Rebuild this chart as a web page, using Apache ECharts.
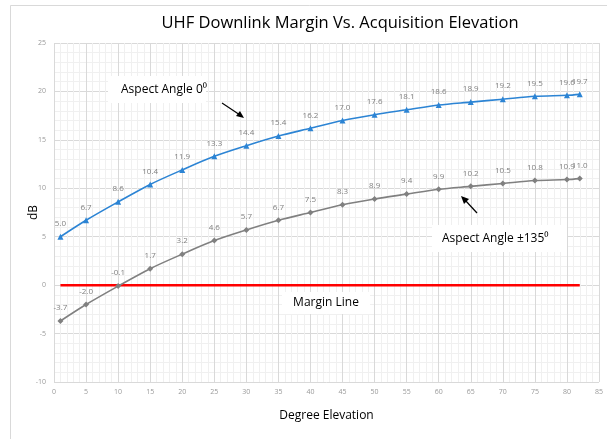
<!DOCTYPE html>
<html>
<head>
<meta charset="utf-8">
<script src="https://cdn.jsdelivr.net/npm/echarts@6/dist/echarts.min.js"></script>
<style>
  html, body { margin: 0; padding: 0; background: #fff; }
  #chart { width: 607px; height: 439px; }
</style>
</head>
<body>
<div id="chart"></div>
<script>
  // elevation (deg) and margin values
  var elevation = [1, 5, 10, 15, 20, 25, 30, 35, 40, 45, 50, 55, 60, 65, 70, 75, 80, 82];
  var angle0 = [5.0, 6.7, 8.6, 10.4, 11.9, 13.3, 14.4, 15.4, 16.2, 17.0, 17.6, 18.1, 18.6, 18.9, 19.2, 19.5, 19.6, 19.7];
  var angle135 = [-3.7, -2.0, -0.1, 1.7, 3.2, 4.6, 5.7, 6.7, 7.5, 8.3, 8.9, 9.4, 9.9, 10.2, 10.5, 10.8, 10.9, 11.0];
  var marginX = [1, 82];
  var marginY = [0, 0];

  function pairs(xs, ys) {
    var out = [];
    xs.forEach(function (x, i) { out.push([x, ys[i]]); });
    return out;
  }

  var font = 'Open Sans';
  var myChart = echarts.init(document.getElementById('chart'));

  var labelStyle = {
    show: true,
    position: 'top',
    distance: 6,
    fontSize: 8,
    fontFamily: font,
    color: '#808080',
    formatter: function (p) { return p.value[1].toFixed(1); }
  };

  myChart.setOption({
    backgroundColor: '#fff',
    animation: false,
    title: {
      text: 'UHF Downlink Margin Vs. Acquisition Elevation',
      left: 335,
      textAlign: 'center',
      top: 10,
      textStyle: { fontFamily: font, fontSize: 16.5, fontWeight: 'normal', color: '#000' }
    },
    grid: { left: 54, right: 8, top: 43, bottom: 57 },
    xAxis: {
      type: 'value',
      min: 0, max: 85, interval: 5,
      name: 'Degree Elevation',
      nameLocation: 'middle',
      nameGap: 28,
      nameMoveOverlap: false,
      nameTextStyle: { fontFamily: font, fontSize: 12, color: '#000' },
      axisLine: { show: false },
      axisTick: { show: false },
      axisLabel: { fontSize: 7, color: '#999', fontFamily: font, margin: 6 },
      splitLine: { lineStyle: { color: '#d9d9d9' } },
      minorTick: { show: false, splitNumber: 5 },
      minorSplitLine: { show: true, lineStyle: { color: '#f0f0f0' } }
    },
    yAxis: {
      type: 'value',
      min: -10, max: 25, interval: 5,
      name: 'dB',
      nameLocation: 'middle',
      nameGap: 14,
      nameMoveOverlap: false,
      nameTextStyle: { fontFamily: font, fontSize: 12, color: '#000' },
      axisLine: { show: false },
      axisTick: { show: false },
      axisLabel: { fontSize: 7, color: '#999', fontFamily: font, margin: 8 },
      splitLine: { lineStyle: { color: '#d9d9d9' } },
      minorTick: { show: false, splitNumber: 5 },
      minorSplitLine: { show: true, lineStyle: { color: '#f0f0f0' } }
    },
    series: [
      {
        name: 'Margin Line',
        type: 'line',
        data: pairs(marginX, marginY),
        symbol: 'none',
        lineStyle: { color: '#ff0000', width: 2.5 },
        z: 3
      },
      {
        name: 'Aspect Angle 0',
        type: 'line',
        data: pairs(elevation, angle0),
        smooth: 0.3,
        symbol: 'triangle',
        symbolSize: 6,
        lineStyle: { color: '#2c84d4', width: 1.6 },
        itemStyle: { color: '#2c84d4' },
        label: labelStyle,
        z: 4
      },
      {
        name: 'Aspect Angle 135',
        type: 'line',
        data: pairs(elevation, angle135),
        smooth: 0.3,
        symbol: 'diamond',
        symbolSize: 6,
        lineStyle: { color: '#808080', width: 1.6 },
        itemStyle: { color: '#808080' },
        label: labelStyle,
        z: 4
      }
    ],
    graphic: [
      // outer chart border
      { type: 'rect', shape: { x: 10.5, y: 5.5, width: 620, height: 460 }, style: { fill: 'none', stroke: '#d9d9d9', lineWidth: 1 }, silent: true, z: -1 },
      // annotation boxes
      { type: 'rect', shape: { x: 108, y: 76, width: 98, height: 27 }, style: { fill: '#fff' }, z: 10 },
      { type: 'text', x: 121, y: 90, style: { text: 'Aspect Angle 0⁰', fontFamily: font, fontSize: 12, fill: '#000', verticalAlign: 'middle' }, z: 11 },
      { type: 'line', shape: { x1: 222, y1: 103, x2: 240, y2: 115 }, style: { stroke: '#000', lineWidth: 1.2 }, z: 11 },
      { type: 'polygon', shape: { points: [[244, 118], [236, 116], [240, 111]] }, style: { fill: '#000' }, z: 11 },

      { type: 'rect', shape: { x: 432, y: 225, width: 135, height: 27 }, style: { fill: '#fff' }, z: 10 },
      { type: 'text', x: 442, y: 239, style: { text: 'Aspect Angle ±135⁰', fontFamily: font, fontSize: 12, fill: '#000', verticalAlign: 'middle' }, z: 11 },
      { type: 'line', shape: { x1: 477, y1: 213, x2: 465, y2: 200 }, style: { stroke: '#000', lineWidth: 1.2 }, z: 11 },
      { type: 'polygon', shape: { points: [[461, 196], [469, 199], [464, 204]] }, style: { fill: '#000' }, z: 11 },

      { type: 'rect', shape: { x: 282, y: 292, width: 88, height: 22 }, style: { fill: '#fff' }, z: 10 },
      { type: 'text', x: 326, y: 303, style: { text: 'Margin Line', fontFamily: font, fontSize: 12, fill: '#000', align: 'center', verticalAlign: 'middle' }, z: 11 }
    ]
  });
</script>
</body>
</html>
